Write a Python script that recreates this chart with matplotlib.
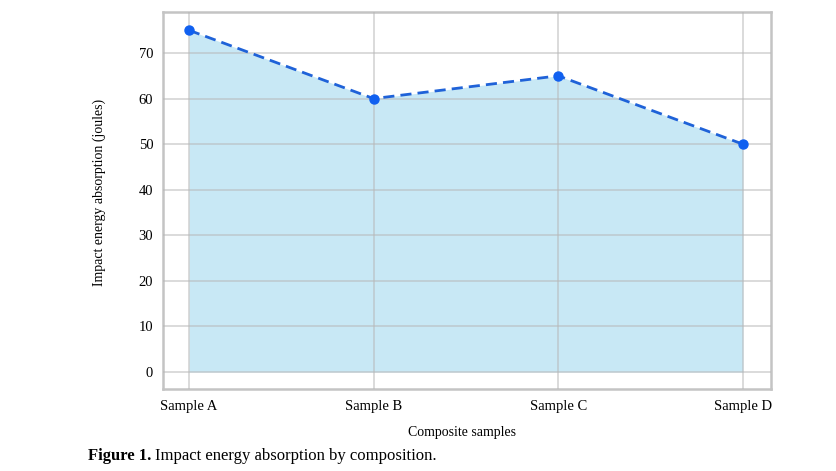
import matplotlib
matplotlib.use("Agg")
import matplotlib.pyplot as plt

categories = ["Sample A", "Sample B", "Sample C", "Sample D"]
values = [75, 60, 65, 50]
yticks = [0, 10, 20, 30, 40, 50, 60, 70]

plt.rcParams['font.family'] = ['Liberation Serif', 'DejaVu Serif']

fig = plt.figure(figsize=(8.37, 4.71), dpi=100)
ax = fig.add_axes([0.1947, 0.174, 0.7264, 0.8005])

x = list(range(len(categories)))
ax.fill_between(x, values, 0, color='#87CEEB', alpha=0.45, linewidth=0, zorder=1)
ax.plot(x, values, linestyle='--', color='#1f62d8', linewidth=2, dashes=(4, 2.2),
        marker='o', markersize=6.5, markerfacecolor='#1060f0', markeredgecolor='#1060f0', zorder=3)

ax.set_xlim(-0.141, 3.152)
ax.set_ylim(-3.73, 79.0)
ax.set_xticks(x)
ax.set_xticklabels(categories, fontsize=10.5)
ax.set_yticks(yticks)
ax.set_yticklabels([str(v) for v in yticks], fontsize=10.5)
ax.tick_params(length=0, pad=7)
ax.tick_params(axis='x', pad=8)
ax.grid(True, color='#b8b8b8', linewidth=1.2, alpha=0.6, zorder=2)
ax.set_axisbelow(False)
for s in ax.spines.values():
    s.set_color('#c4c4c4')
    s.set_linewidth(1.8)

ax.set_xlabel("Composite samples", fontsize=10)
ax.xaxis.set_label_coords(0.492, -0.098)
ax.set_ylabel("Impact energy absorption (joules)", fontsize=10)
ax.yaxis.set_label_coords(-0.094, 0.5225)

base_y = 0.0234
t1 = fig.text(88/837, base_y, "Figure 1.", fontsize=12, fontweight='bold', ha='left', va='baseline')
fig.canvas.draw()
bb = t1.get_window_extent()
fig.text((bb.x1 + 4) / 837, base_y, "Impact energy absorption by composition.", fontsize=12,
         ha='left', va='baseline')

fig.savefig("out.png", dpi=100)
